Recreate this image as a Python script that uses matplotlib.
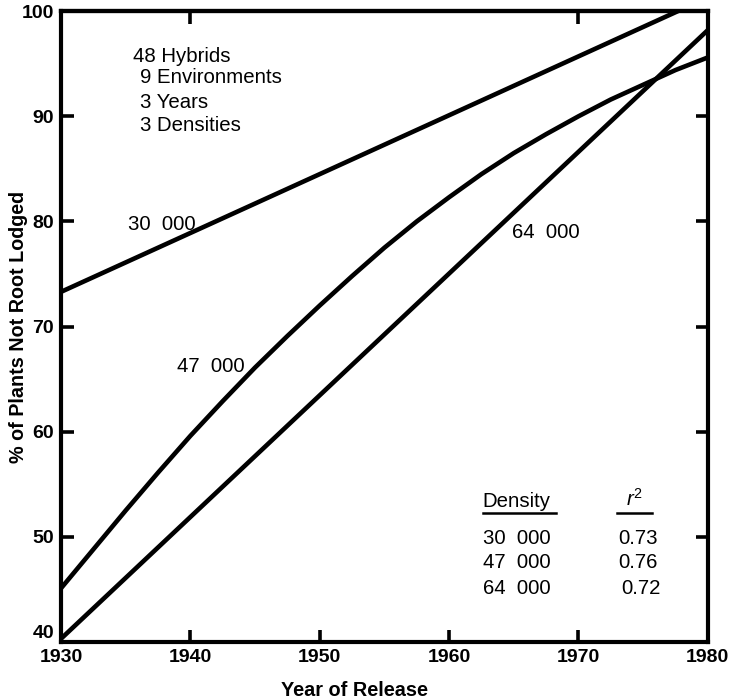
import matplotlib.pyplot as plt

plt.rcParams['font.family'] = ['Liberation Sans', 'DejaVu Sans']
plt.rcParams['mathtext.fontset'] = 'custom'
plt.rcParams['mathtext.rm'] = 'Liberation Sans'
plt.rcParams['mathtext.it'] = 'Liberation Sans:italic'

# Fitted lodging response by year of hybrid release
years_lin = [1930, 1980]
pct_30000 = [73.3, 101.3]
pct_64000 = [40.3, 98.2]

years_47000 = [1930, 1932.5, 1935, 1937.5, 1940, 1942.5, 1945, 1947.5, 1950,
               1952.5, 1955, 1957.5, 1960, 1962.5, 1965, 1967.5, 1970,
               1972.5, 1975, 1977.5, 1980]
pct_47000 = [45.1, 48.8, 52.5, 56.1, 59.6, 62.9, 66.1, 69.1, 72.0,
             74.8, 77.5, 80.0, 82.3, 84.5, 86.5, 88.3, 90.0,
             91.6, 93.0, 94.4, 95.6]

densities = ["30  000", "47  000", "64  000"]
r2_values = ["0.73", "0.76", "0.72"]

fig = plt.figure(figsize=(7.35, 7.0), dpi=100)
ax = fig.add_axes([0.083, 0.083, 0.880, 0.901])

lw = 3.3
ax.plot(years_lin, pct_30000, color="black", lw=lw, solid_capstyle="butt")
ax.plot(years_47000, pct_47000, color="black", lw=lw, solid_joinstyle="round")
ax.plot(years_lin, pct_64000, color="black", lw=lw, solid_capstyle="butt")

ax.set_xlim(1930, 1980)
ax.set_ylim(40, 100)
ax.set_xticks(range(1930, 1981, 10))
ax.set_yticks(range(40, 101, 10))

for s in ax.spines.values():
    s.set_linewidth(3.0)

ax.tick_params(direction="in", length=9, width=2.6, right=True, top=False,
               labelsize=14, pad=5)
for lab in ax.get_xticklabels() + ax.get_yticklabels():
    lab.set_fontweight("bold")
# keep the 40 clear of the 1930 below it
ax.get_yticklabels()[0].set_verticalalignment("bottom")

# only two ticks survive along the top edge
top = ax.secondary_xaxis("top")
top.set_xticks([1940, 1970])
top.tick_params(direction="in", length=9, width=2.6, labeltop=False)
top.spines["top"].set_linewidth(3.0)

ax.set_xlabel("Year of Release", fontsize=14.3, fontweight="bold")
ax.xaxis.set_label_coords(0.453, -0.062)
ax.set_ylabel("% of Plants Not Root Lodged", fontsize=14.2, fontweight="bold")
ax.yaxis.set_label_coords(-0.051, 0.5)

# experiment summary
fs = 14.7
txt = dict(fontsize=fs, va="baseline", ha="left")
ax.text(1935.56, 95.15, "48 Hybrids", **txt)
ax.text(1936.1, 93.2, "9 Environments", **txt)
ax.text(1936.1, 90.8, "3 Years", **txt)
ax.text(1936.1, 88.6, "3 Densities", **txt)

# curve labels
ax.text(1935.2, 79.2, densities[0], **txt)
ax.text(1938.96, 65.7, densities[1], **txt)
ax.text(1964.85, 78.4, densities[2], **txt)

# r-squared table
ax.text(1962.6, 52.85, "Density", **txt)
ax.text(1973.7, 52.9, r"$r^2$", **txt)
ax.plot([1962.6, 1968.3], [52.3, 52.3], color="black", lw=1.8)
ax.plot([1973.0, 1975.7], [52.3, 52.3], color="black", lw=1.8)
row_y = [49.3, 47.0, 44.6]
r2_x = [1973.05, 1973.05, 1973.3]
for d, r, y, x in zip(densities, r2_values, row_y, r2_x):
    ax.text(1962.6, y, d, **txt)
    ax.text(x, y, r, **txt)

fig.savefig("out.png", dpi=100)
